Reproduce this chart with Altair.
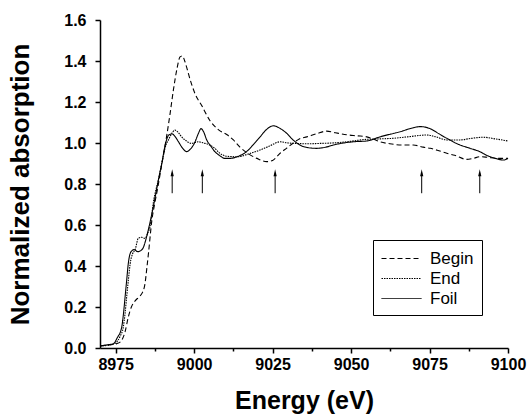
import altair as alt
import pandas as pd

# ---------------- data ----------------
begin_e = [8970, 8973, 8975, 8976.5, 8978, 8979, 8980, 8981.2, 8982.5, 8983.5, 8984.3, 8985, 8985.5,
           8986.5, 8987.5, 8988.5, 8989.5, 8990.2, 8991.2, 8992.3, 8993.4, 8994.5, 8995.5, 8996.2, 8997,
           8997.6, 8998.7, 9000.3, 9002.5, 9005, 9007.7, 9010.5, 9012.5, 9014.6, 9017, 9020, 9023.1,
           9025, 9027.4, 9029.5, 9031.6, 9033.5, 9035.9, 9039, 9042.2, 9045, 9048.6, 9052, 9055, 9057,
           9059.2, 9063, 9066, 9069.8, 9073, 9075.2, 9078, 9080.5, 9083, 9086.8, 9089, 9091, 9093.5,
           9096.4, 9100]
begin_v = [0.01, 0.015, 0.02, 0.03, 0.08, 0.15, 0.20, 0.23, 0.25, 0.27, 0.31, 0.40, 0.47,
           0.62, 0.71, 0.79, 0.88, 0.94, 1.03, 1.14, 1.26, 1.36, 1.42, 1.425, 1.40,
           1.37, 1.31, 1.24, 1.18, 1.11, 1.065, 1.04, 1.015, 0.98, 0.95, 0.925, 0.909,
           0.915, 0.95, 0.975, 1.0, 1.02, 1.03, 1.045, 1.058, 1.05, 1.04, 1.035, 1.03, 1.02,
           1.006, 0.995, 0.99, 0.99, 0.98, 0.974, 0.962, 0.95, 0.94, 0.92, 0.925, 0.933, 0.93,
           0.925, 0.925]

end_e = [8970, 8973, 8974.8, 8976.5, 8977.4, 8978, 8978.5, 8979.1, 8979.6, 8980.4, 8981.2, 8982.2,
         8983.3, 8984.3, 8985.2, 8985.9, 8986.5, 8987, 8987.8, 8988.6, 8989.4, 8990.2, 8991, 8991.8,
         8993, 8993.9, 8995, 8996, 8997.1, 8999.2, 9001.3, 9003, 9005, 9006.5, 9008.2, 9010.5, 9013.9,
         9017, 9021, 9024, 9027.4, 9030, 9032.7, 9036, 9040, 9044, 9048.6, 9055, 9059, 9063.5, 9068,
         9074.1, 9077, 9080.5, 9084.7, 9088, 9092.1, 9096, 9100]
end_v = [0.01, 0.015, 0.023, 0.06, 0.10, 0.17, 0.25, 0.34, 0.41, 0.46, 0.48, 0.535,
         0.54, 0.535, 0.56, 0.59, 0.65, 0.71, 0.77, 0.82, 0.88, 0.94, 0.99, 1.015,
         1.05, 1.063, 1.05, 1.03, 1.015, 0.998, 1.006, 1.0, 0.99, 0.975, 0.95, 0.935, 0.933,
         0.945, 0.966, 0.985, 1.006, 1.0, 0.998, 0.996, 0.998, 1.0, 1.006, 1.018, 1.02, 1.023, 1.03,
         1.039, 1.03, 1.015, 1.015, 1.022, 1.028, 1.02, 1.01]

foil_e = [8970, 8972, 8974.2, 8975.5, 8976.9, 8977.5, 8978, 8978.5, 8979, 8979.9, 8980.9, 8982, 8983,
          8983.8, 8984.8, 8985.9, 8987, 8988, 8989, 8989.7, 8990.5, 8991.2, 8992, 8993, 8994, 8995,
          8996.3, 8997.6, 8998.8, 9000.3, 9001.3, 9002.2, 9003, 9004, 9005.3, 9006.6, 9008, 9009.8,
          9011.4, 9014, 9016.7, 9019, 9021, 9023, 9025.2, 9027.5, 9029.5, 9031.5, 9033.7, 9036, 9039,
          9042, 9044.3, 9050.7, 9055, 9059.2, 9065.6, 9070, 9072, 9075.2, 9078, 9080.5, 9084, 9087.9,
          9091, 9093.2, 9096, 9098.5, 9100]
foil_v = [0.01, 0.015, 0.02, 0.05, 0.10, 0.17, 0.25, 0.33, 0.41, 0.47, 0.48, 0.47, 0.475,
          0.49, 0.54, 0.61, 0.69, 0.77, 0.85, 0.90, 0.97, 1.015, 1.04, 1.044, 1.03, 1.006,
          0.975, 0.958, 0.97, 1.006, 1.045, 1.07, 1.055, 1.015, 0.985, 0.958, 0.94, 0.925,
          0.925, 0.935, 0.958, 0.995, 1.03, 1.065, 1.084, 1.07, 1.047, 1.015, 0.99, 0.978, 0.974,
          0.98, 0.99, 1.006, 1.01, 1.03, 1.055, 1.075, 1.08, 1.07, 1.045, 1.023, 0.995, 0.974,
          0.958, 0.94, 0.925, 0.917, 0.925]

series_names = ["Begin", "End", "Foil"]
arrow_energies = [8993, 9002.6, 9025.8, 9072.5, 9091]
arrow_bottom = 0.755
arrow_top = 0.852

x_ticks = [8975 + 12.5 * i for i in range(11)]
y_ticks = [round(0.1 * i, 1) for i in range(17)]

# ---------------- tables ----------------
rows = []
for name, es, vs in zip(series_names, [begin_e, end_e, foil_e], [begin_v, end_v, foil_v]):
    for e, v in zip(es, vs):
        rows.append({"energy": e, "absorption": v, "series": name})
df = pd.DataFrame(rows)

arrows = pd.DataFrame({"energy": arrow_energies,
                       "y0": [arrow_bottom] * len(arrow_energies),
                       "y1": [arrow_top] * len(arrow_energies)})

FONT = "Liberation Sans"

x_scale = alt.Scale(domain=[8970, 9100], nice=False, zero=False)
y_scale = alt.Scale(domain=[0, 1.6], nice=False, zero=False)

x_axis = alt.Axis(values=x_ticks, title="Energy (eV)", grid=False,
                  labelExpr="datum.value % 25 === 0 ? datum.label : ''",
                  labelOverlap=False, labelFlush=False, format="d",
                  tickSize={"condition": {"test": "datum.value % 25 === 0", "value": 5}, "value": 3},
                  labelPadding=3, titlePadding=16, titleFontSize=25)
y_axis = alt.Axis(values=y_ticks, title="Normalized absorption", grid=False,
                  labelExpr="round(datum.value*10) % 2 === 0 ? datum.label : ''",
                  labelOverlap=False, labelFlush=False, format=".1f",
                  tickSize={"condition": {"test": "round(datum.value*10) % 2 === 0", "value": 5}, "value": 3},
                  labelPadding=9, titlePadding=30, titleFontSize=26)

lines = alt.Chart(df).mark_line(color="black", strokeWidth=1.1, interpolate="monotone").encode(
    x=alt.X("energy:Q", scale=x_scale, axis=x_axis),
    y=alt.Y("absorption:Q", scale=y_scale, axis=y_axis),
    strokeDash=alt.StrokeDash(
        "series:N",
        scale=alt.Scale(domain=series_names, range=[[5, 3], [1.5, 1], [1, 0]]),
        legend=alt.Legend(title=None, orient="none", legendX=273, legendY=220,
                          direction="vertical", symbolType="M-1,0L3,0", symbolSize=400,
                          symbolStrokeWidth=1, symbolStrokeColor="black",
                          labelFont=FONT, labelFontSize=17, labelColor="black",
                          labelOffset=28, strokeColor="black", fillColor="white",
                          padding=8, rowPadding=1),
    ),
    detail="series:N",
)

shafts = alt.Chart(arrows).mark_rule(color="black", strokeWidth=1).encode(
    x=alt.X("energy:Q", scale=x_scale),
    y=alt.Y("y0:Q", scale=y_scale),
    y2="y1:Q",
)
heads = alt.Chart(arrows).mark_point(
    shape="M0,-1L-0.4,0.7L0.4,0.7Z", filled=True, color="black", size=64, opacity=1
).encode(
    x=alt.X("energy:Q", scale=x_scale),
    y=alt.Y("y1:Q", scale=y_scale),
)

chart = alt.layer(lines, shafts, heads).properties(
    width=408, height=328, autosize="none",
    padding={"left": 100, "top": 20, "right": 21, "bottom": 70},
    background="white",
).configure_view(stroke=None).configure_axis(
    domainColor="black", domainWidth=1.5, tickColor="black", tickWidth=1.5,
    labelFont=FONT, labelFontSize=16, labelFontWeight="bold", labelColor="black",
    titleFont=FONT, titleFontWeight="bold", titleColor="black",
)

chart.save("out.html", embed_options={"renderer": "svg", "actions": False})
